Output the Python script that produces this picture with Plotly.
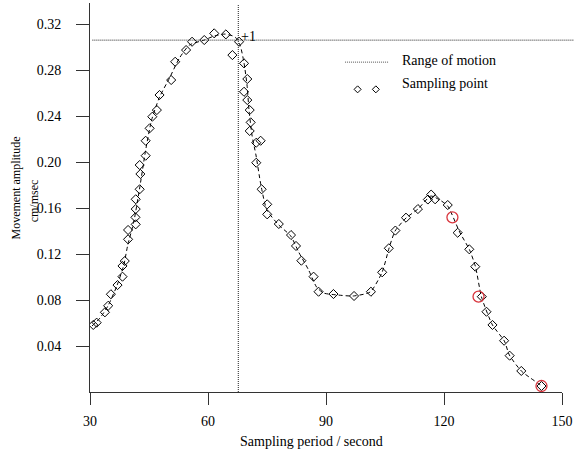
import plotly.graph_objects as go

# ---- data ----
sample_x = [30.83, 31.69, 33.79, 34.62, 35.31, 37.0, 38.26, 38.26, 38.84, 39.68,
            39.68, 41.62, 41.55, 41.62, 41.62, 42.63, 42.81, 42.63, 44.15, 44.15,
            45.16, 45.84, 47.0, 47.68, 50.64, 51.65, 54.43, 55.95, 59.05, 61.58,
            64.54, 66.20, 67.90, 69.16, 69.99, 69.16, 69.99, 70.60, 70.85, 70.60,
            72.27, 73.38, 72.27, 73.63, 75.05, 75.05, 78.0, 81.11, 82.37, 83.74,
            86.84, 88.11, 91.90, 97.13, 101.42, 104.28, 105.97, 107.64, 110.34, 113.37,
            115.90, 116.73, 117.74, 120.95, 123.48, 126.43, 127.95, 129.62, 130.80, 132.32,
            135.28, 136.69, 139.65, 144.78]
sample_y = [0.0583, 0.0603, 0.0693, 0.0750, 0.0850, 0.0930, 0.1003, 0.1096, 0.1139, 0.1328,
            0.1409, 0.1458, 0.1519, 0.1591, 0.1676, 0.1763, 0.1896, 0.1974, 0.2055, 0.2185,
            0.2293, 0.2394, 0.2452, 0.2583, 0.2713, 0.2872, 0.2974, 0.3046, 0.3061, 0.3119,
            0.3110, 0.2930, 0.3046, 0.2858, 0.2722, 0.2611, 0.2539, 0.2452, 0.2345, 0.2270,
            0.2168, 0.2185, 0.1994, 0.1763, 0.1632, 0.1545, 0.1461, 0.1365, 0.1270, 0.1142,
            0.1003, 0.0872, 0.0852, 0.0835, 0.0872, 0.1041, 0.1250, 0.1404, 0.1516, 0.1591,
            0.1674, 0.1717, 0.1676, 0.1626, 0.1385, 0.1241, 0.1090, 0.0829, 0.0698, 0.0583,
            0.0446, 0.0316, 0.0183, 0.0052]

curve_x = [30.51, 32.53, 34.55, 36.82, 38.59, 39.60, 41.12, 42.63, 44.15, 45.66,
           47.68, 50.21, 52.74, 55.26, 59.05, 61.58, 64.36, 66.89, 68.15, 69.16,
           69.92, 70.43, 71.18, 72.19, 73.45, 74.97, 78.00, 81.03, 83.05, 85.58,
           87.60, 89.37, 93.16, 96.95, 101.24, 104.28, 106.04, 107.56, 110.34, 113.37,
           116.65, 118.93, 120.95, 123.98, 126.51, 128.02, 129.54, 132.32, 135.35, 136.61,
           139.65, 144.95]
curve_y = [0.0574, 0.0643, 0.0748, 0.0922, 0.1104, 0.1278, 0.1478, 0.1774, 0.2104, 0.2365,
           0.2565, 0.2730, 0.2904, 0.3017, 0.3061, 0.3096, 0.3113, 0.3087, 0.3017, 0.2861,
           0.2670, 0.2452, 0.2235, 0.2061, 0.1800, 0.1583, 0.1452, 0.1357, 0.1217, 0.1061,
           0.0913, 0.0861, 0.0843, 0.0835, 0.0870, 0.1043, 0.1252, 0.1400, 0.1513, 0.1591,
           0.1704, 0.1670, 0.1617, 0.1391, 0.1235, 0.1087, 0.0826, 0.0583, 0.0443, 0.0322,
           0.0183, 0.0052]

marked_x = [122.14, 128.78, 144.78]
marked_y = [0.1519, 0.0829, 0.0052]

range_x = 67.7
range_y = 0.306
range_label = "+1"

x_ticks = [30, 60, 90, 120, 150]
y_ticks = [0.04, 0.08, 0.12, 0.16, 0.20, 0.24, 0.28, 0.32]
y_ticktext = ["0.04", "0.08", "0.12", "0.16", "0.20", "0.24", "0.28", "0.32"]

legend_labels = ["Range of motion", "Sampling point"]
x_title = "Sampling period / second"
y_title_lines = ["Movement amplitude", "cm/msec"]

FONT = "Liberation Serif, Times New Roman, serif"

fig = go.Figure()
fig.add_trace(go.Scatter(x=curve_x, y=curve_y, mode="lines",
                         line=dict(color="black", width=1, dash="4px,3px", shape="spline", smoothing=0.6),
                         hoverinfo="skip", showlegend=False))
fig.add_trace(go.Scatter(x=sample_x, y=sample_y, mode="markers",
                         marker=dict(symbol="diamond-open", size=7, color="black", line=dict(width=1)),
                         showlegend=False))
fig.add_trace(go.Scatter(x=marked_x, y=marked_y, mode="markers",
                         marker=dict(symbol="circle-open", size=11, color="#d9363e", line=dict(width=1.3)),
                         showlegend=False))

# range of motion lines
fig.add_shape(type="line", xref="x", yref="paper", x0=range_x, x1=range_x, y0=0, y1=0.995,
              line=dict(color="#222", width=1, dash="1px,1px"))
fig.add_shape(type="line", xref="paper", yref="y", x0=0.005, x1=1.025, y0=range_y, y1=range_y,
              line=dict(color="#222", width=1, dash="1px,1px"))
fig.add_annotation(x=range_x, y=range_y, xref="x", yref="y", text=range_label, showarrow=False,
                   xanchor="left", yanchor="middle", xshift=1, yshift=4,
                   font=dict(family=FONT, size=14, color="black"))

# manual legend
fig.add_shape(type="line", xref="paper", yref="paper", x0=0.5404, x1=0.6316, y0=0.848, y1=0.848,
              line=dict(color="#555", width=1, dash="1px,1px"))
for lx in [0.567, 0.6056]:
    fig.add_shape(type="path", xref="paper", yref="paper", xsizemode="pixel", ysizemode="pixel",
                  xanchor=lx, yanchor=0.778, path="M0,3.5 L3.5,0 L0,-3.5 L-3.5,0 Z",
                  line=dict(color="black", width=1), fillcolor="white")
fig.add_annotation(x=0.656, y=0.8517, xref="paper", yref="paper", text=legend_labels[0],
                   showarrow=False, xanchor="left", yanchor="middle",
                   font=dict(family=FONT, size=14, color="black"))
fig.add_annotation(x=0.656, y=0.794, xref="paper", yref="paper", text=legend_labels[1],
                   showarrow=False, xanchor="left", yanchor="middle",
                   font=dict(family=FONT, size=14, color="black"))

# axis titles
fig.add_annotation(x=0.4695, y=-0.1278, xref="paper", yref="paper", text=x_title,
                   showarrow=False, xanchor="center", yanchor="middle",
                   font=dict(family=FONT, size=14, color="black"))
fig.add_annotation(x=-0.1558, y=0.5244, xref="paper", yref="paper", text=y_title_lines[0],
                   showarrow=False, textangle=-90, xanchor="center", yanchor="middle",
                   font=dict(family=FONT, size=12, color="black"))
fig.add_annotation(x=-0.1179, y=0.491, xref="paper", yref="paper", text=y_title_lines[1],
                   showarrow=False, textangle=-90, xanchor="center", yanchor="middle",
                   font=dict(family=FONT, size=12, color="black"))

fig.update_layout(
    width=576, height=450,
    margin=dict(l=90, r=11, t=3, b=58),
    paper_bgcolor="white", plot_bgcolor="white",
    font=dict(family=FONT, size=14, color="black"),
    showlegend=False,
    xaxis=dict(range=[30, 150], tickvals=x_ticks, ticks="outside", ticklen=12,
               tickcolor="#333", showline=True, linecolor="#333", linewidth=1,
               showgrid=False, zeroline=False, ticklabelstandoff=4,
               tickfont=dict(family=FONT, size=14, color="black")),
    yaxis=dict(range=[0, 0.3383], tickvals=y_ticks, ticktext=y_ticktext, ticks="outside",
               ticklen=13, tickcolor="#333", showline=True, linecolor="#333", linewidth=1,
               showgrid=False, zeroline=False, ticklabelstandoff=12,
               tickfont=dict(family=FONT, size=14, color="black")),
)

fig.write_html("out.html", config={"displayModeBar": False},
               post_script="document.body.style.margin='0';document.body.style.padding='0';")
